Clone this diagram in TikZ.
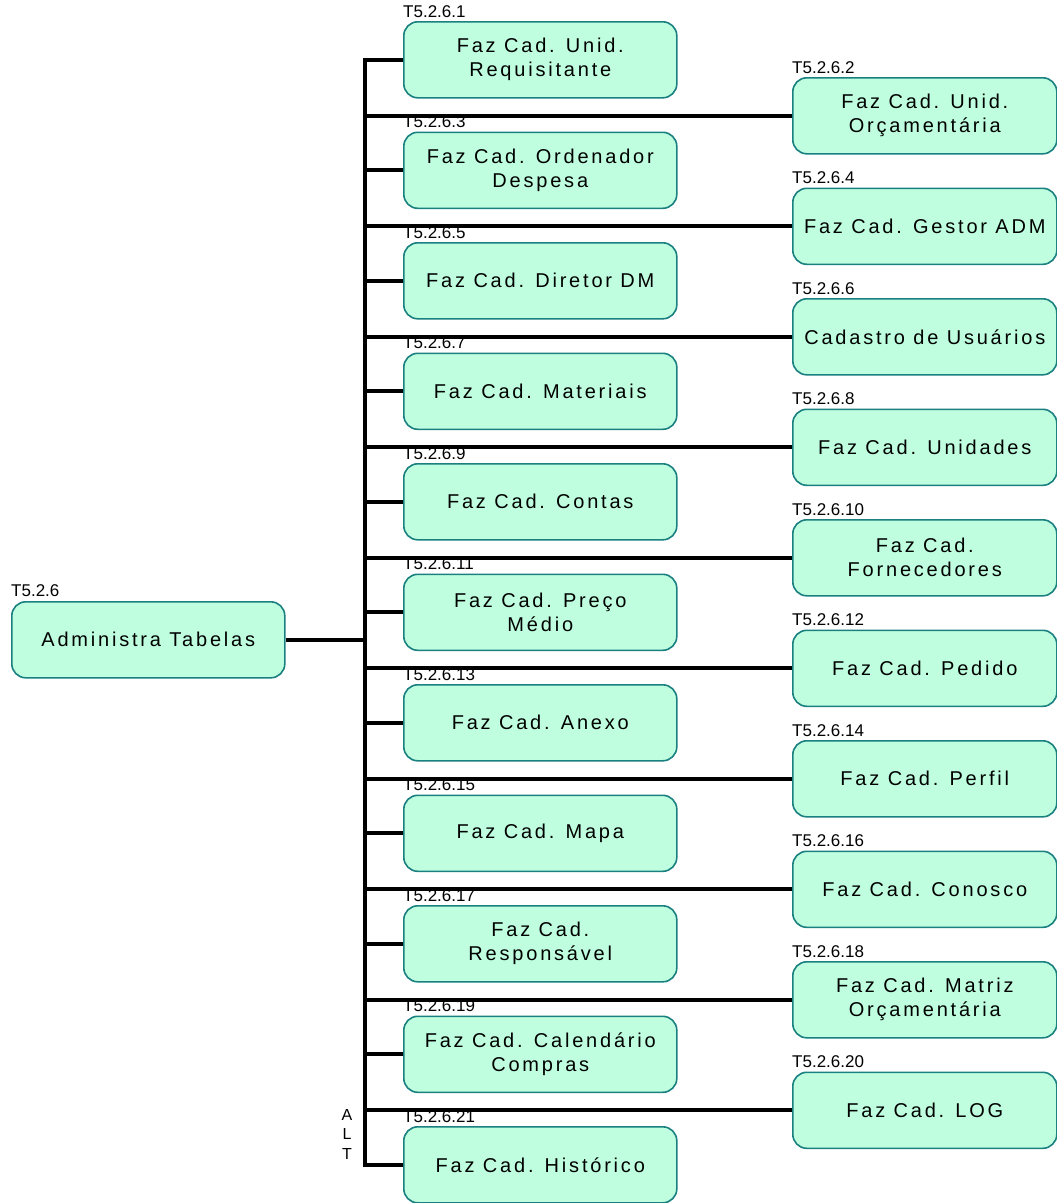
\documentclass[tikz,border=0pt]{standalone}
\usepackage{fontspec}
\setmainfont{Liberation Sans}
\newfontfamily\boxfont[LetterSpace=14]{Liberation Sans}
\usetikzlibrary{calc}
\definecolor{boxfill}{HTML}{BFFFDF}
\definecolor{boxline}{HTML}{1A8080}
\begin{document}
\begin{tikzpicture}[x=1pt,y=-1pt,
  task/.style={draw=boxline, fill=boxfill, line width=1.6pt, rounded corners=14pt,
    minimum width=273pt, minimum height=76pt, inner sep=0pt, align=center,
    font=\boxfont\fontsize{20}{24}\selectfont, anchor=north west},
  rtask/.style={task, minimum width=264pt},
  tag/.style={inner sep=0pt, anchor=base west, font=\fontsize{17}{17}\selectfont},
  link/.style={line width=4pt}]
\useasboundingbox (0,0) rectangle (1057,1203);

% root task
\node[task] (root) at (11,601) {Administra Tabelas};
\node[tag] (troot) at ($(root.north west)+(0,-5)$) {T5.2.6};

% left column of subtasks
\node[task] (m1)  at (403,21)     {Faz Cad. Unid.\\Requisitante};
\node[task] (m3)  at (403,131.5)  {Faz Cad. Ordenador\\Despesa};
\node[task] (m5)  at (403,242)    {Faz Cad. Diretor DM};
\node[task] (m7)  at (403,352.5)  {Faz Cad. Materiais};
\node[task] (m9)  at (403,463)    {Faz Cad. Contas};
\node[task] (m11) at (403,573.5)  {Faz Cad. Preço\\Médio};
\node[task] (m13) at (403,684)    {Faz Cad. Anexo};
\node[task] (m15) at (403,794.5)  {Faz Cad. Mapa};
\node[task] (m17) at (403,905)    {Faz Cad.\\Responsável};
\node[task] (m19) at (403,1015.5) {Faz Cad. Calendário\\Compras};
\node[task] (m21) at (403,1126)   {Faz Cad. Histórico};

% right column of subtasks
\node[rtask] (r2)  at (792,77)     {Faz Cad. Unid.\\Orçamentária};
\node[rtask] (r4)  at (792,187.5)  {Faz Cad. Gestor ADM};
\node[rtask] (r6)  at (792,298)    {Cadastro de Usuários};
\node[rtask] (r8)  at (792,408.5)  {Faz Cad. Unidades};
\node[rtask] (r10) at (792,519)    {Faz Cad.\\Fornecedores};
\node[rtask] (r12) at (792,629.5)  {Faz Cad. Pedido};
\node[rtask] (r14) at (792,740)    {Faz Cad. Perfil};
\node[rtask] (r16) at (792,850.5)  {Faz Cad. Conosco};
\node[rtask] (r18) at (792,961)    {Faz Cad. Matriz\\Orçamentária};
\node[rtask] (r20) at (792,1071.5) {Faz Cad. LOG};

% task numbers
\foreach \n in {1,3,...,21}{
  \node[tag] (tm\n) at ($(m\n.north west)+(0,-4)$) {T5.2.6.\n};
}
\foreach \n in {2,4,...,20}{
  \node[tag] (tr\n) at ($(r\n.north west)+(0,-4)$) {T5.2.6.\n};
}

% vertical bus
\coordinate (bus) at (365,0);
\draw[link] (m1.west) -- (m1.west -| bus) -- (m21.west -| bus) -- (m21.west);
\draw[link] (root.east) -- (root.east -| bus);
\foreach \n in {3,5,...,19}{
  \draw[link] (m\n.west -| bus) -- (m\n.west);
}
\foreach \n in {2,4,...,20}{
  \draw[link] (r\n.west -| bus) -- (r\n.west);
}

% alternative marker
\node[inner sep=0pt, align=center, font=\fontsize{16}{19.5}\selectfont] (alt) at (347,1134) {A\\L\\T};
\end{tikzpicture}
\end{document}
